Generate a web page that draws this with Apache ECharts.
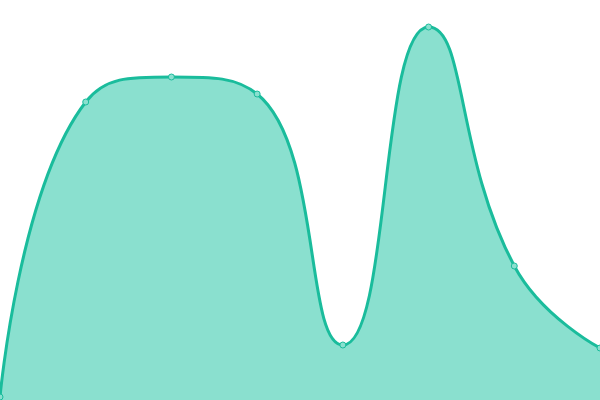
<!DOCTYPE html>
<html>
<head>
<meta charset="utf-8">
<script src="https://cdn.jsdelivr.net/npm/echarts@6/dist/echarts.min.js"></script>
<style>
  html, body { margin: 0; padding: 0; background: #fff; }
  #chart { width: 600px; height: 400px; }
</style>
</head>
<body>
<div id="chart"></div>
<script>
// 数据
const categories = ['1', '2', '3', '4', '5', '6', '7', '8'];
const values = [3, 298, 323, 306, 55, 373, 134, 52];

const chart = echarts.init(document.getElementById('chart'));
chart.setOption({
    animation: false,
    grid: { left: 0, right: 0, top: 0, bottom: 0 },
    xAxis: {
        type: 'category',
        data: categories,
        boundaryGap: false,
        show: false
    },
    yAxis: {
        type: 'value',
        min: 0,
        max: 400,
        show: false
    },
    series: [{
        type: 'line',
        data: values,
        smooth: 0.5,
        symbol: 'circle',
        symbolSize: 6,
        lineStyle: { color: '#1abc9c', width: 3 },
        itemStyle: { color: '#8ae0cf', borderColor: '#1abc9c', borderWidth: 1 },
        areaStyle: { color: '#8ae0cf', opacity: 1 }
    }]
});
</script>
</body>
</html>
